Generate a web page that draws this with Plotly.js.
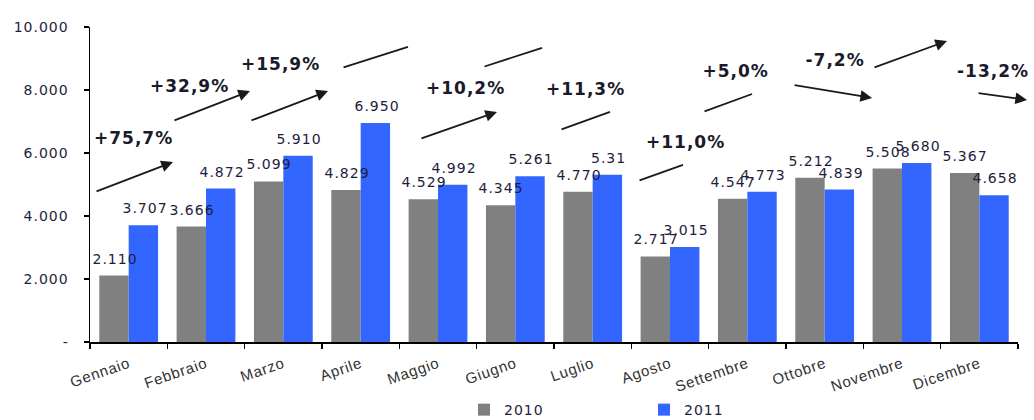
<!DOCTYPE html>
<html>
<head>
<meta charset="utf-8">
<script src="https://cdn.plot.ly/plotly-3.0.1.min.js"></script>
<style>
html,body{margin:0;padding:0;background:#fff;}
#chart{width:1034px;height:420px;}
#chart .annotation-text{letter-spacing:1px;}
#chart .ytick text{letter-spacing:1px;}
#chart .xtick text{letter-spacing:0.8px;}
#chart .legendtext{letter-spacing:1px;}
</style>
</head>
<body>
<div id="chart"></div>
<script>
// ---- data ----
const months = ["Gennaio","Febbraio","Marzo","Aprile","Maggio","Giugno","Luglio","Agosto","Settembre","Ottobre","Novembre","Dicembre"];
const values2010 = [2110, 3666, 5099, 4829, 4529, 4345, 4770, 2717, 4547, 5212, 5508, 5367];
const values2011 = [3707, 4872, 5910, 6950, 4992, 5261, 5310, 3015, 4773, 4839, 5680, 4658];
const labels2010 = ["2.110","3.666","5.099","4.829","4.529","4.345","4.770","2.717","4.547","5.212","5.508","5.367"];
const labels2011 = ["3.707","4.872","5.910","6.950","4.992","5.261","5.31","3.015","4.773","4.839","5.680","4.658"];
const growthLabels = ["+75,7%","+32,9%","+15,9%","+43,9%","+21,1%","+10,2%","+11,3%","+11,0%","+5,0%","-7,2%","+3,1%","-13,2%"];
const yTickVals = [0, 2000, 4000, 6000, 8000, 10000];
const yTickText = ["-", "2.000", "4.000", "6.000", "8.000", "10.000"];

// ---- annotation placement (layout only) ----
const growthTextPos = [[0.056,6477],[0.793,8128],[1.957,8827],[3.082,10128],[5.022,10128],[4.362,8064],[5.901,8033],[7.194,6350],[7.841,8604],[9.134,8953],[9.91,10319],[11.177,8604]];
const arrowPos = [ // [tailX, tailY, headX, headY, hasHead]
  [-0.435,4762,0.573,5715,1],[0.573,7017,1.569,7969,1],[1.569,7017,2.578,7969,1],
  [2.759,8700,3.612,9366,0],[4.582,8731,5.345,9335,0],[3.767,6445,4.763,7303,1],
  [5.578,6731,6.224,7303,0],[6.587,5112,7.168,5620,0],[7.427,7303,8.061,7874,0],
  [8.591,8160,9.613,7747,1],[9.625,8700,10.582,9557,1],[10.97,7906,11.617,7684,1]
];

const FONT = "DejaVu Sans, Verdana, sans-serif";
const gray = "#808080", blue = "#3366FF";

const traces = [
  {type:"bar", name:"2010", x:months, y:values2010, marker:{color:gray}, hoverinfo:"skip"},
  {type:"bar", name:"2011", x:months, y:values2011, marker:{color:blue}, hoverinfo:"skip"}
];

const annotations = [];
months.forEach((m,i)=>{
  annotations.push({x:m, y:values2010[i], xref:"x", yref:"y", text:labels2010[i], showarrow:false,
    xshift:-14, yshift:7, yanchor:"bottom", font:{family:FONT, size:14, color:"#1e1e3c"}});
  annotations.push({x:m, y:values2011[i], xref:"x", yref:"y", text:labels2011[i], showarrow:false,
    xshift:16, yshift:7, yanchor:"bottom", font:{family:FONT, size:14, color:"#1e1e3c"}});
});
growthLabels.forEach((g,i)=>{
  annotations.push({x:growthTextPos[i][0], y:growthTextPos[i][1], xref:"x", yref:"y", text:"<b>"+g+"</b>",
    showarrow:false, font:{family:FONT, size:17, color:"#1a1a2a"}});
  const a = arrowPos[i];
  annotations.push({x:a[2], y:a[3], ax:a[0], ay:a[1], xref:"x", yref:"y", axref:"x", ayref:"y",
    text:"", showarrow:true, arrowhead:a[4]?2:0, arrowsize:1.3, arrowwidth:1.8, arrowcolor:"#1a1a1a", standoff:0, startstandoff:0});
});

const layout = {
  width:1034, height:420,
  margin:{l:90, r:16, t:27, b:78, autoexpand:false},
  paper_bgcolor:"#fff", plot_bgcolor:"#fff",
  barmode:"group", bargap:0.24, bargroupgap:0,
  showlegend:true,
  legend:{orientation:"h", x:0.403, xanchor:"left", y:-0.216, yanchor:"middle",
    entrywidth:135, font:{family:FONT, size:14, color:"#1e1e3c"}, itemwidth:30},
  xaxis:{type:"category", range:[-0.5,11.5], showline:true, linecolor:"#000", linewidth:1.5,
    ticks:"outside", tickson:"boundaries", ticklen:5, tickcolor:"#000", tickwidth:1.5, ticklabelstandoff:6,
    tickangle:-19, tickfont:{family:"Liberation Sans, Arial, sans-serif", size:15, color:"#333"}, showgrid:false, zeroline:false, fixedrange:true, automargin:false},
  yaxis:{range:[0,10000], showline:true, linecolor:"#000", linewidth:1.5, ticks:"outside", ticklen:5,
    tickcolor:"#000", tickwidth:1.5, tickvals:yTickVals, ticktext:yTickText, ticklabelstandoff:12,
    tickfont:{family:FONT, size:14, color:"#1e1e3c"}, showgrid:false, zeroline:false, fixedrange:true, automargin:false},
  annotations:annotations
};

Plotly.newPlot("chart", traces, layout, {staticPlot:true, displayModeBar:false});
</script>
</body>
</html>
